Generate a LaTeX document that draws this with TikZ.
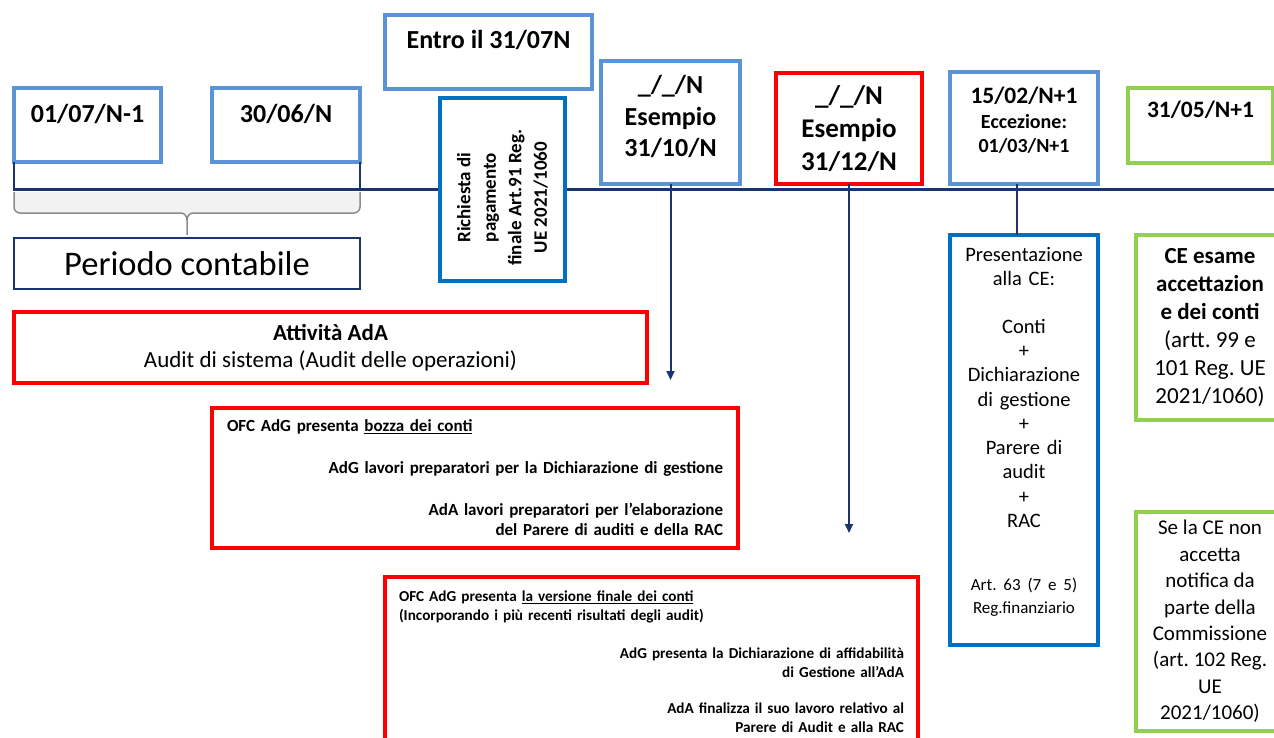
\documentclass[tikz,border=0pt]{standalone}
\usepackage{fontspec}
\setmainfont{Carlito}
\usetikzlibrary{arrows.meta}
\definecolor{lblue}{HTML}{5A93D6}
\definecolor{mblue}{HTML}{0070C0}
\definecolor{navy}{HTML}{1A3470}
\definecolor{redline}{HTML}{FF0000}
\definecolor{greenline}{HTML}{92D050}
\definecolor{bracegray}{HTML}{8C8C8C}
\definecolor{bracefill}{HTML}{F2F2F2}
\frenchspacing

\begin{document}
\begin{tikzpicture}[x=1pt, y=-1pt,
	datebox/.style={draw=lblue, line width=3.5pt, fill=white, inner sep=0pt, outer sep=0pt, align=center, font=\fontsize{26}{33}\selectfont\bfseries},
	bluebox/.style={draw=mblue, line width=4pt, fill=white, inner sep=0pt, outer sep=0pt, align=center},
	redbox/.style={draw=redline, line width=4pt, fill=white, inner sep=0pt, outer sep=0pt, align=center},
	greenbox/.style={draw=greenline, line width=4pt, fill=white, inner sep=0pt, outer sep=0pt, align=center, font=\fontsize{21}{26.4}\selectfont},
	tline/.style={draw=navy, line width=2.5pt},
	tarrow/.style={draw=navy, line width=2pt, -{Triangle[width=8pt, length=9pt]}}]
			\useasboundingbox (0, 0) rectangle (1274, 737);
			\clip (0, 0) rectangle (1274, 737);
			\node[datebox, anchor=north west, minimum width=147pt, text height=34pt, text depth=40pt] (d1)at(14, 88) {01/07/N-1};
			\node[datebox, anchor=north west, minimum width=148pt, text height=34pt, text depth=40pt] (d2)at(212, 88) {30/06/N};
			\node[datebox, anchor=north west, minimum width=207pt, text height=33pt, text depth=41pt] (d3)at(385, 15) {Entro il 31/07N};
			\node[datebox, minimum width=139pt, minimum height=123pt, text width=131pt, font=\fontsize{26}{31.5}\selectfont\bfseries] (d4)at(670.5, 122.5) {\_/\_/N\\Esempio\\31/10/N\par\vspace{12pt}\hrule height 0pt};
			\node[redbox, minimum width=146pt, minimum height=111pt, font=\fontsize{27}{33}\selectfont\bfseries] (d5)at(849, 128.5) {\_/\_/N\\Esempio\\31/12/N};
			\node[datebox, minimum width=148pt, minimum height=112pt, text width=140pt, font=\fontsize{23.5}{26}\selectfont\bfseries] (d6)at(1024, 128) {15/02/N+1\par\vspace{2pt}{\fontsize{20}{23.4}\selectfont Eccezione:\\01/03/N+1\par}\vspace{16pt}\hrule height 0pt};
			\node[greenbox, anchor=north west, minimum width=145pt, text height=29pt, text depth=46pt, font=\fontsize{23.5}{26}\selectfont\bfseries] (d7)at(1128, 88) {31/05/N+1};
			\coordinate (tlend)at(1274, 189.5);
			\draw[tline] (d1.south west) |- (tlend);
			\draw[tline] (d2.south east) -- (d2.south east |- tlend);
			\draw[draw=bracegray, fill=bracefill, line width=1.5pt] (14, 192) -- (14, 207) to[out=-90, in=180] (20, 213) -- (181, 213) to[out=0, in=90] (187, 220) -- (187, 235) -- (187, 220) to[out=90, in=180] (193, 213) -- (354, 213) to[out=0, in=-90] (360, 207) -- (360, 192);
			\node[draw=navy, line width=2pt, inner sep=0pt, minimum width=346pt, minimum height=51pt, font=\fontsize{34.5}{40}\selectfont] (per)at(187, 263.5) {Periodo contabile};
			\node[bluebox, rotate=90, minimum width=183pt, minimum height=125pt, font=\fontsize{19}{25.5}\selectfont\bfseries] (req)at(502.5, 189.5) {Richiesta di\kern16pt\\pagamento\kern16pt\\finale Art.91 Reg.\kern16pt\\UE 2021/1060\kern16pt};
			\coordinate (a1)at(670.5, 380);
			\coordinate (a2)at(849, 533);
			\draw[tarrow] (d4) -- (a1);
			\draw[tarrow] (d5) -- (a2);
			\node[bluebox, minimum width=148pt, minimum height=410pt, text width=140pt, font=\fontsize{20.5}{24.3}\selectfont] (pres)at(1024, 440) {Presentazione\\alla CE:\\[23pt]Conti\\+\\Dichiarazione\\di gestione\\+\\Parere di\\audit\\+\\RAC\par\vspace{39pt}{\fontsize{17}{23.5}\selectfont Art. 63 (7 e 5)\\Reg.finanziario\par}\vspace{16pt}\hrule height 0pt};
			\draw[tline] ([xshift=-7pt]d6.south) -- ([xshift=-7pt]pres.north);
			\node[greenbox, minimum width=148pt, minimum height=185pt, font=\fontsize{23}{28}\selectfont] (ce)at(1210, 327.5) {\textbf{CE esame}\\\textbf{accettazion}\\\textbf{e dei conti}\\(artt. 99 e\\101 Reg. UE\\2021/1060)};
			\node[greenbox, minimum width=148pt, minimum height=219pt] (nok)at(1210, 621.5) {Se la CE non\\accetta\\notifica da\\parte della\\Commissione\\(art. 102 Reg.\\UE\\2021/1060)};
			\node[redbox, minimum width=633pt, minimum height=71pt, font=\fontsize{23}{27}\selectfont] (ada)at(330.5, 347.5) {\textbf{Attività AdA}\\Audit di sistema (Audit delle operazioni)};
			\node[redbox, minimum width=526pt, minimum height=140pt, text width=496pt, align=right, font=\fontsize{17}{20.5}\selectfont\bfseries] (bozza)at(475, 478) {\makebox[496pt][l]{OFC AdG presenta \underline{bozza dei conti}}\\[21pt]AdG lavori preparatori per la Dichiarazione di gestione\\[21.5pt]AdA lavori preparatori per l’elaborazione\\del Parere di auditi e della RAC};
			\node[redbox, minimum width=533pt, minimum height=170pt, text width=505pt, align=right, font=\fontsize{15.2}{19}\selectfont\bfseries] (fin)at(651.5, 662) {\makebox[505pt][l]{OFC AdG presenta \underline{la versione finale dei conti}}\\\makebox[505pt][l]{(Incorporando i più recenti risultati degli audit)}\\[19pt]AdG presenta la Dichiarazione di affidabilità\\di Gestione all’AdA\\[17pt]AdA finalizza il suo lavoro relativo al\\Parere di Audit e alla RAC};
\end{tikzpicture}
\end{document}
